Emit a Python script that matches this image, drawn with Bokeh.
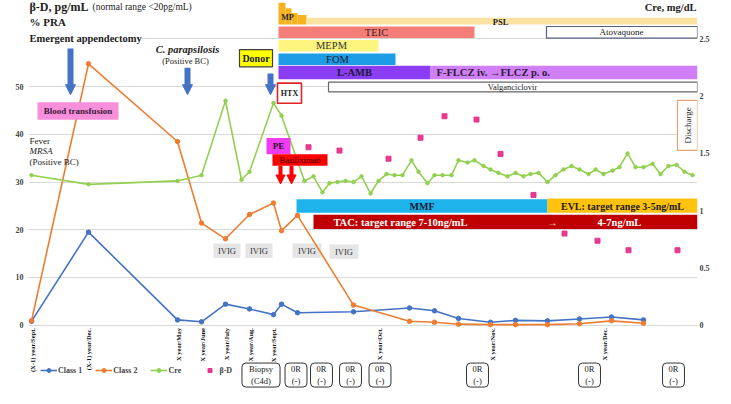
import math
from bokeh.plotting import figure
from bokeh.models import Range1d, LinearAxis, FixedTicker, Label, Arrow, NormalHead
from bokeh.embed import file_html
from bokeh.resources import INLINE

# ---------------- data ----------------
# timeline position of each PRA measurement
pra_t = [3, 60, 149, 173, 197, 221, 245, 253, 269, 325, 381, 406, 430, 462, 487, 519, 551, 583, 615]
class1 = [0.8, 19.5, 1.1, 0.7, 4.4, 3.4, 2.2, 4.4, 2.6, 2.8, 3.6, 3.0, 1.4, 0.6, 1.0, 0.9, 1.3, 1.7, 1.1]
class2 = [0.9, 54.8, 38.5, 21.4, 18.1, 23.2, 25.6, 19.8, 23.0, 4.2, 0.8, 0.6, 0.2, 0.1, 0.1, 0.1, 0.3, 0.9, 0.4]

cre_t = [3, 60, 149, 173, 197, 213, 221, 245, 253,
         276, 285, 294, 301, 309, 317, 325, 333, 342, 350,
         358, 366, 374, 383, 390, 399, 406, 414, 423, 430,
         439, 446, 455, 462, 470, 479, 487, 495, 502, 510,
         519, 527, 535, 543, 551, 560, 567, 575, 584, 591,
         599, 607, 615, 624, 632, 640, 648, 656, 664]
cre = [1.31, 1.23, 1.26, 1.31, 1.96, 1.27, 1.34, 1.94, 1.83,
       1.26, 1.30, 1.16, 1.24, 1.25, 1.26, 1.25, 1.30, 1.15, 1.26,
       1.32, 1.31, 1.31, 1.44, 1.34, 1.24, 1.31, 1.31, 1.31, 1.44,
       1.42, 1.44, 1.39, 1.36, 1.33, 1.30, 1.33, 1.30, 1.32, 1.33,
       1.25, 1.31, 1.36, 1.39, 1.36, 1.32, 1.36, 1.32, 1.35, 1.38,
       1.50, 1.38, 1.38, 1.41, 1.32, 1.39, 1.40, 1.34, 1.31]

bd_t = [280, 311, 360, 392, 416, 448, 472, 505, 536, 569, 600, 649]
bd = [37.3, 36.6, 34.9, 39.3, 43.8, 43.1, 35.9, 27.3, 19.2, 17.7, 15.7, 15.7]

tick_t = [4, 60, 150, 174, 198, 222, 245, 351, 464, 576]
tick_labels = ["(X-1) year/Sept.", "(X-1) year/Dec.", "X year/May", "X year/June",
               "X year/July", "X year/Aug.", "X year/Sept.", "X year/Oct.",
               "X year/Nov.", "X year/Dec."]

left_ticks = [0, 10, 20, 30, 40, 50]
grid_ticks = [0, 10, 20, 30, 40, 50, 60]
right_ticks = [0, 0.5, 1, 1.5, 2, 2.5]

C1 = "#4472C4"
C2 = "#ED7D31"
CG = "#92D050"
CP = "#E6398F"
SERIF = "Liberation Serif"


# ---------------- layout helpers (annotation placement) ----------------
def X(px):
    return px - 28


def Y(py):
    return (338 - py) * 60.0 / 298.0


YBOT, YTOP = Y(404), Y(2)
p = figure(width=715, height=388, x_range=Range1d(0, 669), y_range=Range1d(YBOT, YTOP),
           output_backend="svg", toolbar_location=None, x_axis_location=None,
           min_border_left=28, min_border_right=18, min_border_top=2, min_border_bottom=0,
           outline_line_color=None)
p.extra_y_ranges = {"cre": Range1d(YBOT * 2.5 / 60.0, YTOP * 2.5 / 60.0)}

# axes
p.yaxis.ticker = FixedTicker(ticks=left_ticks)
for ax in p.yaxis:
    ax.axis_line_color = None
    ax.major_tick_line_color = None
    ax.minor_tick_line_color = None
    ax.major_tick_out = 0
    ax.minor_tick_out = 0
    ax.major_label_text_font = SERIF
    ax.major_label_text_font_style = "bold"
    ax.major_label_text_font_size = "8px"
    ax.major_label_standoff = 5

rax = LinearAxis(y_range_name="cre", ticker=FixedTicker(ticks=right_ticks),
                 axis_line_color=None, major_tick_line_color=None, minor_tick_line_color=None,
                 major_tick_out=0, minor_tick_out=0,
                 major_label_text_font=SERIF, major_label_text_font_style="bold",
                 major_label_text_font_size="8px", major_label_standoff=2)
p.add_layout(rax, "right")

p.xgrid.visible = False
p.ygrid.ticker = FixedTicker(ticks=grid_ticks)
p.ygrid.grid_line_color = "#D9D9D9"
p.ygrid.grid_line_width = 1


def box(l, r, t, b, fill, line=None, lw=1.0):
    p.quad(left=X(l), right=X(r), top=Y(t), bottom=Y(b), fill_color=fill,
           line_color=line, line_width=lw)


def txt(px, py, text, size, style="normal", color="#222222", align="center",
        angle=0.0, bg=None, baseline="middle"):
    lab = Label(x=X(px), y=Y(py), text=text, text_font=SERIF, text_font_size=size,
                text_font_style=style, text_color=color, text_align=align,
                text_baseline=baseline, angle=angle, background_fill_color=bg)
    p.add_layout(lab)


# IVIG boxes (behind the lines)
for (l, r, t, b) in [(213, 240, 253, 268), (245, 272, 253, 268), (292, 321, 253, 268), (329, 358, 254, 269)]:
    box(l, r, t, b, "#E5E5E5")
    txt((l + r) / 2, (t + b) / 2, "IVIG", "8.5px", color="#333333")

# ---------------- data series ----------------
p.line(pra_t, class1, line_color=C1, line_width=1.6, legend_label="Class 1")
p.scatter(pra_t, class1, marker="circle", size=4.5, color=C1, legend_label="Class 1")
p.line(pra_t, class2, line_color=C2, line_width=1.6, legend_label="Class 2")
p.scatter(pra_t, class2, marker="circle", size=4.5, color=C2, legend_label="Class 2")
p.line(cre_t, cre, line_color=CG, line_width=1.6, y_range_name="cre", legend_label="Cre")
p.scatter(cre_t, cre, marker="circle", size=3.5, color=CG, y_range_name="cre", legend_label="Cre")
p.scatter(bd_t, bd, marker="square", size=5, color=CP, legend_label="β-D")

# x tick labels (timeline), rotated, just under the zero line
for t, lab in zip(tick_t, tick_labels):
    p.add_layout(Label(x=t, y=Y(341), text=lab, text_font=SERIF, text_font_size="6.5px",
                       text_font_style="bold", text_color="#111111", angle=math.pi / 2,
                       text_align="right", text_baseline="middle"))

# ---------------- treatment bars ----------------
for (l, r, t, b) in [(278, 285, 2, 25), (285, 291, 8, 25), (291, 297, 13, 25), (297, 306, 15, 25)]:
    box(l, r, t, b, "#F5B31F")
box(306, 697, 18, 25, "#FCE3A4")
box(278, 474, 27, 39, "#F67E78")
box(546, 697, 27, 39, "white", "#55627F", 1.2)
box(278, 378, 41, 53, "#FDF57E")
box(278, 395, 55, 67, "#1C9DE6")
box(278, 430, 68, 82, "#8A3DF2")
box(430, 697, 68, 82, "#D07FF6")
box(328, 697, 85, 95, "white", "#666666", 1.2)
box(277, 301, 86, 107, "white", "#E02424", 1.6)
box(239, 272, 51, 69, "#FFFF00", "#404040", 1.2)
box(37, 118, 106, 124, "#F78FDB")
box(266, 290, 143, 160, "#F03CF0")
box(272, 327, 160, 172, "#FF0000")
box(677, 697, 104, 156, "white", "#E2A477", 1.2)
box(296, 547, 207, 221, "#1EB3EA")
box(547, 697, 206, 221, "#FFC20E")
box(313, 697, 223, 238, "#C00000")

# arrows
for (ax_, y0, y1) in [(70, 50, 98), (187, 70, 98), (270, 76, 98)]:
    p.add_layout(Arrow(end=NormalHead(size=10, fill_color=C1, line_color=C1),
                       x_start=X(ax_), y_start=Y(y0), x_end=X(ax_), y_end=Y(y1),
                       line_color=C1, line_width=6))
for ax_ in [280, 291]:
    p.add_layout(Arrow(end=NormalHead(size=9, fill_color="#FF0000", line_color="#FF0000"),
                       x_start=X(ax_), y_start=Y(172), x_end=X(ax_), y_end=Y(191),
                       line_color="#FF0000", line_width=4))

# ---------------- texts ----------------
txt(287, 18, "MP", "8px", "bold")
txt(500, 22, "PSL", "8.5px", "bold")
txt(376, 33, "TEIC", "10.5px", color="#3B2222")
txt(621, 33, "Atovaquone", "9px")
txt(331, 47, "MEPM", "10.5px", color="#333333")
txt(337, 61, "FOM", "10.5px", color="#1A1A2A")
txt(354, 75, "L-AMB", "10.5px", "bold", "#1A1A33")
txt(436, 75, "F-FLCZ iv. →FLCZ p. o.", "10.5px", "bold", "#2A1A33", align="left")
txt(512, 90, "Valganciclovir", "8.5px")
txt(289, 96.5, "HTX", "8px", "bold")
txt(255.5, 60, "Donor", "10px", "bold")
txt(29, 40, "Emergent appendectomy", "10.5px", "bold", align="left", bg="white")
txt(187, 51, "C. parapsilosis", "10.5px", "bold italic")
txt(185, 63, "(Positive BC)", "8.5px")
txt(77.5, 115, "Blood transfusion", "9px", "bold", "#3A1A3A")
txt(29, 146, "Fever", "9px", align="left")
txt(29, 157, "MRSA", "9px", "italic", align="left")
txt(29, 168, "(Positive BC)", "9px", align="left")
txt(278, 151.5, "PE", "9px", "bold", "#2A0A2A")
txt(299.5, 166, "Basiliximab", "8.5px", color="#3A0000")
txt(687, 130, "Discharge", "9px", angle=math.pi / 2)
txt(421.5, 214, "MMF", "10px", "bold", "#0D1A33")
txt(622, 214, "EVL: target range 3-5ng/mL", "10px", "bold", "#1A1A1A")
txt(400, 231, "TAC: target range 7-10ng/mL", "10.5px", "bold", "white")
txt(552, 231, "→", "10px", color="white")
txt(619, 231, "4-7ng/mL", "10.5px", "bold", "white")

# headers
txt(29, 7, "β-D, pg/mL", "12px", "bold", align="left")
txt(92, 7, "(normal range <20pg/mL)", "9.5px", align="left")
txt(29, 22, "% PRA", "11px", "bold", align="left")
txt(696, 7, "Cre, mg/dL", "10.5px", "bold", align="right")


# biopsy boxes below the axis
def bbox(px, text, padx):
    p.add_layout(Label(x=X(px), y=Y(390), text=text, text_font=SERIF, text_font_size="8.5px",
                       text_align="center", text_baseline="middle", text_color="#222222",
                       background_fill_color="white", border_line_color="#333333",
                       border_line_width=1, border_radius=4, padding=(padx, 1)))


bbox(260.5, "Biopsy\n(C4d)", 7)
for cx in [295.5, 321, 350, 379.5, 477, 589, 673]:
    bbox(cx, "0R\n(-)", 6)

# legend
lg = p.legend[0]
lg.orientation = "horizontal"
lg.location = (12, 13)
lg.background_fill_alpha = 0
lg.border_line_color = None
lg.label_text_font = SERIF
lg.label_text_font_style = "bold"
lg.label_text_font_size = "8px"
lg.glyph_width = 17
lg.glyph_height = 10
lg.label_height = 10
lg.label_standoff = 1
lg.spacing = 13
lg.padding = 0
lg.margin = 0

open("out.html", "w").write(file_html(p, INLINE))
